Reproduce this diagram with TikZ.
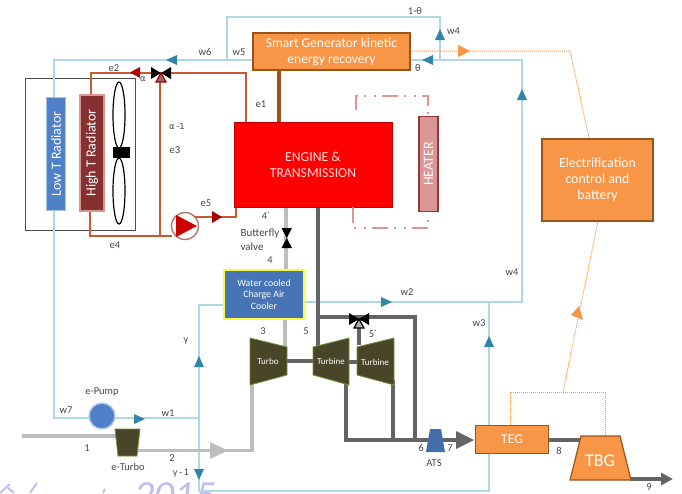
\documentclass[tikz,border=0pt]{standalone}
\usepackage{fontspec}
\setmainfont{Carlito}
\newfontfamily\djv{DejaVu Sans}
\usetikzlibrary{arrows.meta,shapes.geometric}
\definecolor{water}{RGB}{175,215,228}
\definecolor{wtip}{RGB}{49,133,166}
\definecolor{cool}{RGB}{200,90,50}
\definecolor{orng}{RGB}{246,150,70}
\definecolor{orngd}{RGB}{152,84,25}
\definecolor{turb}{RGB}{73,69,41}
\definecolor{turbe}{RGB}{118,146,60}
\definecolor{bluef}{RGB}{79,129,200}
\definecolor{lab}{RGB}{70,70,70}
\definecolor{gas}{RGB}{190,190,190}
\definecolor{exh}{RGB}{100,100,100}
\definecolor{heat}{RGB}{217,150,148}
\definecolor{maroon2}{RGB}{149,55,53}
\definecolor{wmark}{RGB}{190,190,240}
\tikzset{
 x=1pt,y=-1pt,
 lbl/.style={font=\fontsize{10.5}{11}\selectfont,text=lab,inner sep=0pt},
 wline/.style={draw=water,line width=1.3pt},
 eline/.style={draw=cool,line width=1.8pt},
 gline/.style={draw=gas,line width=3.6pt},
 xline/.style={draw=exh,line width=3.6pt},
 hline/.style={draw=heat,line width=2pt,dash pattern=on 16pt off 6pt on 2pt off 8pt on 2pt off 6pt},
 oline/.style={draw=orng,line width=1pt,densely dotted},
 obox/.style={draw=orngd,line width=1.2pt,fill=orng,text=white,align=center,inner sep=0pt},
 turbo/.style={draw=turbe,line width=.8pt,fill=turb},
 twhite/.style={text=white,font=\fontsize{9}{10}\selectfont,inner sep=0pt},
 rotw/.style={rotate=90,text=white,font=\fontsize{14}{15}\selectfont,inner sep=0pt},
 greek/.style={lbl,font=\djv\fontsize{8.5}{10}\selectfont},
}
\newcommand{\wtipr}[2]{\fill[wtip] (#1-5,#2-5) -- (#1+6,#2) -- (#1-5,#2+5) -- cycle;}
\newcommand{\wtipl}[2]{\fill[wtip] (#1+5,#2-5) -- (#1-6,#2) -- (#1+5,#2+5) -- cycle;}
\newcommand{\wtipu}[2]{\fill[wtip] (#1-5,#2+5) -- (#1,#2-6) -- (#1+5,#2+5) -- cycle;}
\newcommand{\wtipd}[2]{\fill[wtip] (#1-5,#2-5) -- (#1,#2+6) -- (#1+5,#2-5) -- cycle;}
\newcommand{\valveD}[3]{\fill[black] (#1-10,#2-6) -- (#1,#2) -- (#1-10,#2+6) -- cycle (#1+10,#2-6) -- (#1,#2) -- (#1+10,#2+6) -- cycle;
 \draw[#3,line width=1.2pt,fill=white!70!#3] (#1,#2) -- (#1-5,#2+9) -- (#1+5,#2+9) -- cycle;}
\begin{document}
\begin{tikzpicture}
\useasboundingbox (0,0) rectangle (682,493);
% clipped watermark
\begin{scope}
\clip (0,0) rectangle (682,493);
\node[anchor=base west,text=wmark,inner sep=0pt,font=\itshape\fontsize{40}{40}\selectfont] (wm) at (134,508) {2015};
\draw[wmark,line width=2pt] (0,493) -- (10,484) (14,493) -- (8,488) (30,493) -- (37,483) (103,493) -- (105,489);
\end{scope}
% radiator enclosure
\node[draw=black!70,line width=.7pt,minimum width=110pt,minimum height=152pt,inner sep=0pt] (encl) at (80,154.5) {};
% water circuit
\coordinate (wa) at (54,60);
\coordinate (wb) at (54,418);
\coordinate (wc) at (199,418);
\coordinate (wd) at (199,305);
\coordinate (we) at (199,491);
\coordinate (wf) at (489,491);
\coordinate (wg) at (489,302);
\coordinate (wh) at (522,302);
\coordinate (wi) at (522,60);
\coordinate (wj) at (440,60);
\coordinate (wk) at (440,17);
\coordinate (wl) at (227,17);
\coordinate (wm) at (227,60);
\draw[wline] (wm) -- (wa) -- (wb) -- (wc);
\draw[wline] (wd) -- (we) -- (wf) -- (wg);
\draw[wline] (wc) -- (wd) -- (223,305);
\draw[wline] (305,302) -- (wh) -- (wi) -- (410,60);
\draw[wline] (wj) -- (wk) -- (wl) -- (wm) -- (253,60);
\wtipl{172}{60}
\wtipu{440}{35}
\wtipl{428}{60}
\wtipu{522}{95}
\wtipr{386}{302}
\wtipu{489}{342}
\wtipu{199}{362}
\wtipr{139}{419}
\wtipd{199}{474}
% electrification lines
\coordinate (ob) at (570,51);
\draw[oline] (410,51) -- (ob) -- (589,138);
\draw[oline] (598,221) -- (563,392);
\draw[oline] (510,427) -- (510,392) -- (605,392) -- (605,436);
\fill[orng] (458,45) -- (470,51) -- (458,57) -- cycle;
\fill[orng] (579,306) -- (571,315) -- (583,320) -- cycle;
% engine pipes
\draw[draw=orngd,line width=4pt] (279,68) -- (279,123);
\coordinate (ea) at (246,123);
\coordinate (eb) at (246,73);
\coordinate (ec) at (91,73);
\coordinate (ed) at (91,95);
\coordinate (ee) at (90,210);
\coordinate (ef) at (90,236);
\coordinate (eg) at (172,236);
\coordinate (eh) at (160,236);
\coordinate (ei) at (160,80);
\coordinate (ej) at (236,217);
\coordinate (ek) at (236,207);
\draw[eline] (ea) -- (eb) -- (ec) -- (ed);
\draw[eline] (ee) -- (ef) -- (eg);
\draw[eline] (eh) -- (ei);
\draw[eline] (190,217) -- (ej) -- (ek);
\fill[red!70!black] (130,72.5) -- (140,67) -- (140,78) -- cycle;
\fill[red!65!black] (212,211) -- (222,217) -- (212,223) -- cycle;
\valveD{161}{73}{red!60!black}
% pump
\node[circle,draw=maroon2!70,line width=1.4pt,fill=white,minimum size=27pt,inner sep=0pt] (pump) at (185,226) {};
\fill[red!80!black] (176,215) -- (197,226) -- (176,237) -- cycle;
% radiators
\node[draw=bluef!50!white,line width=1.6pt,fill=bluef,minimum width=19pt,minimum height=113pt,inner sep=0pt] (lowr) at (56,154) {};
\node[rotw] at (lowr) {Low T Radiator};
\node[draw=heat,line width=1.2pt,fill=maroon2!90!black,minimum width=24pt,minimum height=116pt,inner sep=0pt] (highr) at (92,153) {};
\node[rotw] at (highr) {High T Radiator};
% fan
\draw[black,line width=1.2pt] (119,115) ellipse (6pt and 33pt);
\draw[black,line width=1.2pt] (119,191) ellipse (6pt and 33pt);
\node[fill=black,minimum width=17pt,minimum height=11pt,inner sep=0pt] (hub) at (121.5,152.5) {};
% engine
\node[draw=red!75!black,line width=.8pt,fill=red,text=white!85!red,minimum width=158pt,minimum height=85pt,align=center,inner sep=0pt,font=\fontsize{13.7}{16}\selectfont] (eng) at (313,164.5) {ENGINE \&\\TRANSMISSION};
% heater
\node[draw=maroon2,line width=1.2pt,fill=heat,minimum width=19pt,minimum height=95pt,inner sep=0pt] (heater) at (428.5,164) {};
\node[rotw] at (heater) {HEATER};
\draw[hline] (356,110) -- (356,96) -- (428,96) -- (428,116);
\draw[hline] (353,207) -- (353,228) -- (428,228) -- (428,212);
% smart generator
\node[obox,minimum width=157pt,minimum height=37pt,font=\fontsize{13.5}{16}\selectfont] (sg) at (331.5,51.5) {Smart Generator kinetic\\energy recovery};
% electrification
\node[obox,minimum width=111pt,minimum height=82pt,font=\fontsize{13.8}{16}\selectfont] (ecb) at (597.5,180) {Electrification\\control and\\battery};
% gas pipes
\draw[gline] (286,208) -- (286,270);
\draw[gline] (285,320) -- (285,348);
\draw[gline] (252,380) -- (252,450.5) -- (136,450.5);
\draw[gline] (22,436) -- (118,436);
\fill[gas] (210,442) -- (228,450.5) -- (210,459) -- cycle;
% exhaust
\draw[xline] (318,208) -- (318,350);
\draw[xline] (318,317) -- (415,317) -- (415,440);
\draw[xline] (346,380) -- (346,440) -- (470,440);
\draw[xline] (359,320) -- (359,345);
\draw[xline] (393,380) -- (393,440);
\draw[xline] (285,361) -- (315,361);
\draw[xline] (347,362) -- (360,362);
\draw[xline] (548,440) -- (585,440);
\draw[-{Triangle[length=12pt,width=12pt]},draw=exh,line width=3.6pt] (630,479) -- (673,479);
\fill[exh] (456,431) -- (474,440) -- (456,449) -- cycle;
% butterfly
\fill[black] (281.5,228) -- (292,228) -- (286.7,238) -- cycle;
\fill[black] (281.5,248) -- (292,248) -- (286.7,238) -- cycle;
% turbines
\draw[turbo] (250,338) -- (287,347) -- (287,375) -- (250,385) -- cycle;
\node[twhite] (t1) at (268,361) {Turbo};
\draw[turbo] (349,338) -- (313,347) -- (313,375) -- (349,385) -- cycle;
\node[twhite] (t2) at (331,361) {Turbine};
\draw[turbo] (394,338) -- (357,347) -- (357,375) -- (394,385) -- cycle;
\node[twhite] (t3) at (375,362.5) {Turbine};
\valveD{359}{319}{black}
% CAC
\node[draw={rgb,255:red,250;green,250;blue,60},line width=2pt,fill=bluef!90!black,text=white,minimum width=80pt,minimum height=49pt,align=center,inner sep=0pt,font=\fontsize{9.8}{11.7}\selectfont] (cac) at (264,294.5) {Water cooled\\Charge Air\\Cooler};
% e-pump
\node[circle,draw=bluef!40!white,line width=1.4pt,fill=bluef,minimum size=26pt,inner sep=0pt] (ep) at (102,416) {};
% e-turbo
\fill[turb,draw=turbe,line width=.8pt] (115,429) -- (140,429) -- (137,456) -- (118,456) -- cycle;
% ATS
\fill[bluef!85!black] (430,429) -- (441,429) -- (445,452) -- (426,452) -- cycle;
% TEG, TBG
\node[obox,minimum width=73pt,minimum height=28pt,font=\fontsize{13.5}{14}\selectfont] (teg) at (512,439.5) {TEG};
\fill[orng,draw=orngd,line width=1.2pt] (581,436) -- (620,436) -- (631,480) -- (570,480) -- cycle;
\node[text=white,font=\fontsize{18}{19}\selectfont,inner sep=0pt] (tbg) at (600,461) {TBG};
% labels
\node[lbl] at (114,68) {e2};
\node[greek] at (143,79) {α};
\node[greek] at (177,126) {α\hspace{1.5pt}-1};
\node[lbl] at (175,150) {e3};
\node[lbl] at (261,104) {e1};
\node[lbl] at (206,203) {e5};
\node[lbl] at (115,245) {e4};
\node[lbl] at (205,52) {w6};
\node[lbl] at (239,52) {w5};
\node[lbl,anchor=west] at (447,31) {w4};
\node[lbl] at (415,11) {1-θ};
\node[lbl] at (418,68) {θ};
\node[lbl] at (266,216) {4´};
\node[lbl,font=\fontsize{11}{13}\selectfont] at (260,234) {Butterfly};
\node[lbl,font=\fontsize{11}{13}\selectfont] at (252,247) {valve};
\node[lbl] at (270,260) {4};
\node[lbl] at (263,331) {3};
\node[lbl] at (306,331) {5};
\node[lbl] at (373,334) {5´};
\node[greek] at (186,341) {γ};
\node[lbl] at (407,292) {w2};
\node[lbl] at (512,272) {w4};
\node[lbl] at (479,323) {w3};
\node[lbl] at (102,392) {e-Pump};
\node[lbl] at (66,410) {w7};
\node[lbl] at (168,413) {w1};
\node[lbl] at (87,448) {1};
\node[lbl] at (172,458) {2};
\node[lbl] at (128,467) {e-Turbo};
\node[greek] at (181,473) {γ\hspace{1.5pt}-\hspace{1.5pt}1};
\node[lbl] at (421,448) {6};
\node[lbl] at (450,448) {7};
\node[lbl] at (434,463) {ATS};
\node[lbl] at (559,451) {8};
\node[lbl] at (649,487) {9};
\end{tikzpicture}
\end{document}
